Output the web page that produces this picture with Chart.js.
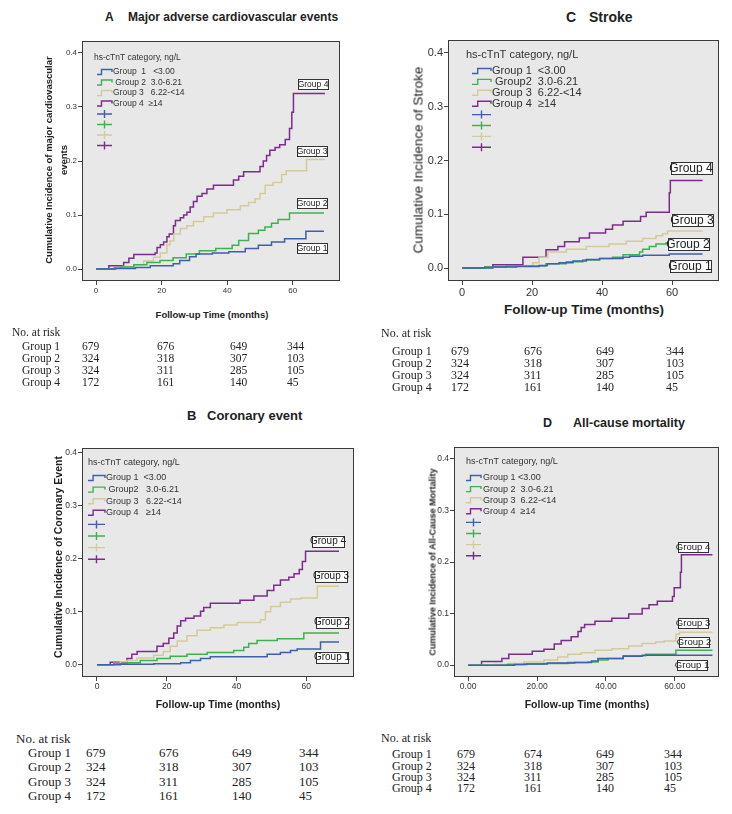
<!DOCTYPE html>
<html>
<head>
<meta charset="utf-8">
<script src="https://cdn.jsdelivr.net/npm/chart.js@4.4.1/dist/chart.umd.min.js"></script>
<style>
  body { margin: 0; background: #fff; width: 732px; height: 814px; position: relative; overflow: hidden;
         font-family: "Liberation Sans", Arial, sans-serif; color: #222; }
  .t { position: absolute; white-space: pre; line-height: 1; }
  .b { font-weight: bold; }
  .serif { font-family: "Liberation Serif", "Times New Roman", serif; color: #222; }
  canvas { position: absolute; }
</style>
</head>
<body>
<script>
// ---- data ----
const groupNames = ['Group 1', 'Group 2', 'Group 3', 'Group 4'];
const groupColors = ['#3e5eae', '#3db24e', '#d5ca9a', '#7d2b8e'];
const yTickValues = [0, 0.1, 0.2, 0.3, 0.4];
const yTickLabels = ['0.0', '0.1', '0.2', '0.3', '0.4'];
const xTickValues = [0, 20, 40, 60];
const xTickLabels = ['0', '20', '40', '60'];
const xTickLabelsD = ['0.00', '20.00', '40.00', '60.00'];

// A  major adverse cardiovascular events (months / cumulative incidence)
const maceG1Time = [0, 6, 12, 16.5, 23.5, 25.5, 28.5, 30.5, 35.5, 40.5, 45.5, 49.5, 53.5, 57.5, 64, 69.5];
const maceG1Inc  = [0, 0.001, 0.003, 0.006, 0.01, 0.016, 0.023, 0.028, 0.03, 0.032, 0.038, 0.044, 0.05, 0.056, 0.07, 0.07];
const maceG2Time = [0, 5.5, 7.5, 11.5, 15.5, 19.5, 23.5, 27.5, 31.5, 36.5, 41.5, 43.5, 46.5, 49.5, 51.5, 53.5, 55.5, 59, 69.5];
const maceG2Inc  = [0, 0.002, 0.004, 0.008, 0.012, 0.016, 0.021, 0.028, 0.034, 0.038, 0.044, 0.053, 0.066, 0.072, 0.078, 0.085, 0.092, 0.104, 0.104];
const maceG3Time = [0, 5.4, 8, 11.5, 14.5, 17.5, 19.6, 21.6, 22.5, 23.7, 25.7, 27.7, 29.7, 32.8, 35.8, 39.9, 44, 46.5, 48.5, 50, 51.6, 54, 56.6, 58, 64.2, 69.8];
const maceG3Inc  = [0, 0.002, 0.005, 0.008, 0.015, 0.022, 0.03, 0.045, 0.052, 0.065, 0.075, 0.08, 0.088, 0.097, 0.104, 0.11, 0.117, 0.123, 0.13, 0.14, 0.155, 0.16, 0.175, 0.182, 0.203, 0.203];
const maceG4Time = [0, 3.9, 8.4, 10, 11.5, 18, 18.6, 19.6, 20.6, 21.6, 22.3, 23.6, 24.2, 25.7, 26.7, 27.7, 28.7, 29.7, 30.8, 32.3, 33.8, 35.8, 41.9, 43.5, 45, 50, 51, 52, 53, 54.6, 56, 57.7, 59, 59.7, 60.2, 69.8];
const maceG4Inc  = [0, 0.006, 0.012, 0.02, 0.027, 0.03, 0.04, 0.045, 0.05, 0.06, 0.065, 0.08, 0.09, 0.095, 0.1, 0.105, 0.115, 0.125, 0.135, 0.14, 0.148, 0.155, 0.165, 0.172, 0.18, 0.19, 0.2, 0.21, 0.22, 0.225, 0.23, 0.24, 0.26, 0.29, 0.325, 0.325];

// B  coronary event
const coroG1Time = [0, 6.7, 16.3, 24, 26.8, 29.7, 32.5, 48.8, 52.6, 55.5, 57.4, 64.1, 69.4];
const coroG1Inc  = [0, 0.001, 0.002, 0.004, 0.008, 0.012, 0.015, 0.02, 0.023, 0.027, 0.03, 0.043, 0.043];
const coroG2Time = [0, 4.8, 8.6, 12.4, 17.2, 21, 25.8, 31.6, 39.2, 42.1, 43.5, 45.9, 51.7, 59.3, 69.4];
const coroG2Inc  = [0, 0.002, 0.004, 0.008, 0.012, 0.016, 0.02, 0.023, 0.027, 0.033, 0.04, 0.046, 0.049, 0.06, 0.06];
const coroG3Time = [0, 4.8, 6.7, 8.6, 11.5, 16.3, 19, 21, 23, 25.8, 28.7, 32.5, 36.4, 40.2, 46.9, 48.3, 49.8, 52.6, 55.5, 58.4, 63.2, 69.4];
const coroG3Inc  = [0, 0.003, 0.006, 0.008, 0.013, 0.018, 0.025, 0.035, 0.045, 0.055, 0.065, 0.07, 0.075, 0.08, 0.085, 0.1, 0.11, 0.118, 0.124, 0.126, 0.148, 0.148];
const coroG4Time = [0, 3.8, 8.6, 10, 11.5, 17.2, 19, 20.6, 22, 23, 24, 25.4, 27.8, 29.7, 30.6, 32.5, 41, 45, 48.8, 50.7, 52.6, 55, 56.5, 58, 58.9, 59.8, 69.4];
const coroG4Inc  = [0, 0.005, 0.012, 0.02, 0.025, 0.035, 0.04, 0.05, 0.06, 0.073, 0.083, 0.088, 0.092, 0.101, 0.108, 0.116, 0.122, 0.13, 0.14, 0.15, 0.16, 0.165, 0.172, 0.18, 0.195, 0.214, 0.214];

// C  stroke
const strokeG1Time = [0, 8.8, 15.5, 22, 24.4, 27.7, 31.7, 35.5, 39.3, 46, 47.9, 51.6, 59.2, 68.7];
const strokeG1Inc  = [0, 0.002, 0.003, 0.005, 0.008, 0.01, 0.013, 0.016, 0.018, 0.02, 0.022, 0.024, 0.026, 0.026];
const strokeG2Time = [0, 6.5, 12.6, 24, 29.8, 34.5, 39.3, 43, 46, 50.7, 51.6, 53.5, 55.4, 58.3, 68.7];
const strokeG2Inc  = [0, 0.002, 0.004, 0.008, 0.012, 0.015, 0.018, 0.02, 0.025, 0.03, 0.035, 0.04, 0.045, 0.047, 0.047];
const strokeG3Time = [0, 8.8, 16, 20.2, 22, 24.5, 29.8, 35.5, 42, 46.9, 51.6, 55.4, 57.3, 58.7, 68.7];
const strokeG3Inc  = [0, 0.002, 0.004, 0.01, 0.02, 0.03, 0.035, 0.04, 0.045, 0.05, 0.055, 0.06, 0.064, 0.069, 0.069];
const strokeG4Time = [0, 6.5, 8.8, 17.4, 24, 27.4, 29.3, 33.5, 36.4, 41, 43, 46, 51, 52.6, 59.2, 59.5, 68.7];
const strokeG4Inc  = [0, 0.002, 0.006, 0.02, 0.034, 0.04, 0.049, 0.056, 0.065, 0.072, 0.08, 0.087, 0.096, 0.104, 0.14, 0.163, 0.163];

// D  all-cause mortality
const deathG1Time = [0, 13.5, 17, 23, 30.9, 35.8, 37.7, 45, 50.5, 70.9];
const deathG1Inc  = [0, 0.001, 0.002, 0.004, 0.005, 0.008, 0.013, 0.017, 0.019, 0.019];
const deathG2Time = [0, 11.3, 16.2, 22, 28.9, 34.8, 37.7, 40.6, 45, 51.5, 60.3, 70.9];
const deathG2Inc  = [0, 0.001, 0.002, 0.003, 0.005, 0.006, 0.01, 0.013, 0.018, 0.021, 0.029, 0.029];
const deathG3Time = [0, 7.8, 11.8, 16.2, 22, 26, 28.9, 32.8, 36.8, 41.7, 46.6, 50.5, 54.4, 56.9, 60.3, 61.3, 70.9];
const deathG3Inc  = [0, 0.001, 0.003, 0.006, 0.01, 0.016, 0.021, 0.024, 0.029, 0.032, 0.037, 0.042, 0.045, 0.047, 0.06, 0.064, 0.064];
const deathG4Time = [0, 3.9, 9.8, 11.8, 18.6, 22, 25, 27, 29.9, 31.9, 32.8, 33.8, 36.8, 41.7, 46.6, 50.5, 52.5, 54.9, 59.3, 59.8, 61.6, 61.9, 70.9];
const deathG4Inc  = [0, 0.007, 0.013, 0.021, 0.027, 0.031, 0.041, 0.048, 0.055, 0.065, 0.073, 0.079, 0.085, 0.091, 0.099, 0.11, 0.117, 0.124, 0.133, 0.15, 0.18, 0.214, 0.214];

// number at risk (rows = groups, cols = 0/20/40/60 months)
const riskMace   = [[679, 676, 649, 344], [324, 318, 307, 103], [324, 311, 285, 105], [172, 161, 140, 45]];
const riskCoro   = [[679, 676, 649, 344], [324, 318, 307, 103], [324, 311, 285, 105], [172, 161, 140, 45]];
const riskStroke = [[679, 676, 649, 344], [324, 318, 307, 103], [324, 311, 285, 105], [172, 161, 140, 45]];
const riskDeath  = [[679, 674, 649, 344], [324, 318, 307, 103], [324, 311, 285, 105], [172, 161, 140, 45]];

// ---- layout per panel ----
const panels = [
  { series: [[maceG1Time, maceG1Inc], [maceG2Time, maceG2Inc], [maceG3Time, maceG3Inc], [maceG4Time, maceG4Inc]],
    canvas: [40, 30, 310, 270], area: [82, 41, 340, 281], xr: [-4.3, 74.4], yr: [-0.022, 0.422],
    xLabels: xTickLabels, tick: 8,
    legend: { size: 8.5, dx: 12, dy: 17, iconX: 15, iconW: 15, textX: 31, rowY: 31, step: 10.5,
              texts: ['Group  1   <3.00', ' Group 2  3.0-6.21', 'Group 3   6.22-<14', 'Group 4  \u226514'] },
    tags: { size: 8.5, w: 30, h: 10, pos: [[312, 248], [312, 203], [312, 151], [313, 84]] } },
  { series: [[coroG1Time, coroG1Inc], [coroG2Time, coroG2Inc], [coroG3Time, coroG3Inc], [coroG4Time, coroG4Inc]],
    canvas: [40, 440, 320, 260], area: [82, 448, 354, 677], xr: [-4.3, 73.7], yr: [-0.023, 0.409],
    xLabels: xTickLabels, tick: 8.5,
    legend: { size: 9, dx: 6, dy: 15, iconX: 6, iconW: 17, textX: 24, rowY: 30, step: 11.6,
              texts: ['Group 1  <3.00', ' Group2   3.0-6.21', 'Group 3   6.22-<14', 'Group 4   \u226514'] },
    tags: { size: 10, w: 32, h: 11, pos: [[332, 657], [332, 622], [331, 576], [328, 541]] } },
  { series: [[strokeG1Time, strokeG1Inc], [strokeG2Time, strokeG2Inc], [strokeG3Time, strokeG3Inc], [strokeG4Time, strokeG4Inc]],
    canvas: [420, 30, 310, 270], area: [448, 40, 719, 281], xr: [-4, 73.4], yr: [-0.024, 0.424],
    xLabels: xTickLabels, tick: 11,
    legend: { size: 11, dx: 18, dy: 15, iconX: 24, iconW: 19, textX: 44, rowY: 31, step: 10.9,
              texts: ['Group 1  <3.00', ' Group2  3.0-6.21', 'Group 3  6.22-<14', 'Group 4  \u226514'] },
    tags: { size: 12, w: 41, h: 12, pos: [[690, 266], [688, 244], [692, 220], [691, 168]] } },
  { series: [[deathG1Time, deathG1Inc], [deathG2Time, deathG2Inc], [deathG3Time, deathG3Inc], [deathG4Time, deathG4Inc]],
    canvas: [420, 440, 310, 260], area: [454, 447, 719, 677], xr: [-4.1, 72.8], yr: [-0.023, 0.423],
    xLabels: xTickLabelsD, tick: 8.5,
    legend: { size: 9, dx: 12, dy: 15, iconX: 12, iconW: 15, textX: 29, rowY: 31, step: 11.1,
              texts: ['Group 1 <3.00', 'Group 2  3.0-6.21', 'Group 3  6.22-<14', 'Group 4  \u226514'] },
    tags: { size: 9.5, w: 30, h: 10, pos: [[692, 665], [694, 642], [693, 623], [693, 547]] } }
];

function decor(p) {
  return {
    id: 'decor',
    beforeDatasetsDraw(chart) {
      const { ctx, chartArea: a } = chart;
      ctx.save();
      ctx.fillStyle = '#e8e8e8';
      ctx.fillRect(a.left, a.top, a.right - a.left, a.bottom - a.top);
      ctx.restore();
    },
    afterDatasetsDraw(chart) {
      const { ctx, chartArea: a } = chart;
      ctx.save();
      ctx.strokeStyle = '#3a3a3a';
      ctx.lineWidth = 1;
      ctx.strokeRect(a.left + 0.5, a.top + 0.5, a.right - a.left - 1, a.bottom - a.top - 1);

      // legend inside plot
      const lg = p.legend;
      ctx.font = lg.size + 'px "Liberation Sans", Arial, sans-serif';
      ctx.fillStyle = '#333';
      ctx.textBaseline = 'middle';
      ctx.fillText('hs-cTnT category, ng/L', a.left + lg.dx, a.top + lg.dy);
      for (let i = 0; i < 8; i++) {
        const y = a.top + lg.rowY + i * lg.step;
        const x0 = a.left + lg.iconX, w = lg.iconW;
        ctx.strokeStyle = groupColors[i % 4];
        ctx.lineWidth = 1.4;
        ctx.beginPath();
        if (i < 4) {
          ctx.moveTo(x0, y + 2.5); ctx.lineTo(x0 + w * 0.3, y + 2.5);
          ctx.lineTo(x0 + w * 0.3, y - 2.5); ctx.lineTo(x0 + w, y - 2.5); ctx.lineTo(x0 + w, y);
        } else {
          ctx.moveTo(x0, y); ctx.lineTo(x0 + w, y);
          ctx.moveTo(x0 + w / 2, y - 4); ctx.lineTo(x0 + w / 2, y + 4);
        }
        ctx.stroke();
        if (i < 4) ctx.fillText(lg.texts[i], a.left + lg.textX, y);
      }

      // boxed group tags at the curve ends
      const tg = p.tags;
      ctx.font = tg.size + 'px "Liberation Sans", Arial, sans-serif';
      ctx.textAlign = 'center';
      tg.pos.forEach((pt, i) => {
        const cx = pt[0] - p.canvas[0], cy = pt[1] - p.canvas[1];
        ctx.fillStyle = '#fff';
        ctx.fillRect(cx - tg.w / 2, cy - tg.h / 2, tg.w, tg.h);
        ctx.strokeStyle = '#333';
        ctx.lineWidth = 1;
        ctx.strokeRect(Math.round(cx - tg.w / 2) + 0.5, Math.round(cy - tg.h / 2) + 0.5, tg.w, tg.h);
        ctx.fillStyle = '#222';
        ctx.fillText(groupNames[i], cx, cy + 0.5);
      });
      ctx.restore();
    }
  };
}

panels.forEach(p => {
  const [cl, ct, cw, ch] = p.canvas;
  const [al, at, ar, ab] = p.area;
  const cv = document.createElement('canvas');
  cv.width = cw; cv.height = ch;
  cv.style.left = cl + 'px'; cv.style.top = ct + 'px';
  document.body.appendChild(cv);
  const font = { family: '"Liberation Sans", Arial, sans-serif', size: p.tick };
  new Chart(cv, {
    type: 'line',
    data: {
      datasets: p.series.map((s, i) => ({
        label: groupNames[i],
        data: s[0].map((t, k) => ({ x: t, y: s[1][k] })),
        borderColor: groupColors[i],
        borderWidth: 1.5,
        stepped: true,
        pointRadius: 0,
        fill: false
      }))
    },
    options: {
      responsive: false,
      animation: false,
      layout: { padding: { left: 0, top: at - ct, right: cl + cw - ar, bottom: 0 } },
      plugins: { legend: { display: false }, tooltip: { enabled: false } },
      scales: {
        x: {
          type: 'linear', min: p.xr[0], max: p.xr[1],
          afterBuildTicks: s => { s.ticks = xTickValues.map(v => ({ value: v })); },
          afterFit: s => { s.height = ct + ch - ab; },
          ticks: { font, color: '#333', padding: 1, maxRotation: 0,
                   callback: (v, i) => p.xLabels[i] },
          grid: { drawOnChartArea: false, drawTicks: true, tickLength: 4, color: '#444' },
          border: { display: false }
        },
        y: {
          type: 'linear', min: p.yr[0], max: p.yr[1],
          afterBuildTicks: s => { s.ticks = yTickValues.map(v => ({ value: v })); },
          afterFit: s => { s.width = al - cl; },
          ticks: { font, color: '#333', padding: 1, callback: (v, i) => yTickLabels[i] },
          grid: { drawOnChartArea: false, drawTicks: true, tickLength: 4, color: '#444' },
          border: { display: false }
        }
      }
    },
    plugins: [decor(p)]
  });
});

// ---- html text: titles, axis titles, risk tables ----
function put(text, x, y, size, cls, align) {
  const d = document.createElement('div');
  d.className = 't ' + (cls || '');
  d.textContent = text;
  d.style.fontSize = size + 'px';
  d.style.left = x + 'px';
  d.style.top = y + 'px';
  d.style.transform = align === 'c' ? 'translate(-50%,-50%)' : 'translateY(-50%)';
  document.body.appendChild(d);
  return d;
}
function vert(text, cx, cy, size, cls) {
  const d = put(text, cx, cy, size, cls, 'c');
  d.style.transform = 'translate(-50%,-50%) rotate(-90deg)';
  d.style.textAlign = 'center';
  d.style.lineHeight = '15px';
  return d;
}

// panel titles
put('A', 105, 17, 12, 'b'); put('Major adverse cardiovascular events', 128, 17, 12, 'b');
put('C', 566, 17, 14, 'b'); put('Stroke', 589, 17, 14, 'b');
put('B', 187, 415, 13, 'b'); put('Coronary event', 207, 415, 13, 'b');
put('D', 543, 423, 12.5, 'b'); put('All-cause mortality', 573, 423, 12.5, 'b');

// y axis titles
vert('Cumulative Incidence of major cardiovascular\nevents', 56, 160, 9.5, 'b');
vert('Cumulative Incidence of Stroke', 418, 160, 13.5, '');
vert('Cumulative Incidence of Coronary Event', 58, 557, 10.5, 'b');
vert('Cumulative Incidence of All-Cause Mortality', 433, 562, 9, 'b');

// x axis titles
put('Follow-up Time (months)', 212, 315, 9.5, 'b', 'c');
put('Follow-up Time (months)', 584, 310, 13.5, 'b', 'c');
put('Follow-up Time (months)', 218, 704, 10.5, 'b', 'c');
put('Follow-up Time (months)', 587, 704, 10.5, 'b', 'c');

// risk tables
function riskTable(rows, size, x0, xg, xs, yHead, ys) {
  put('No. at risk', x0, yHead, size, 'serif');
  rows.forEach((r, i) => {
    put(groupNames[i], xg, ys[i], size, 'serif');
    r.forEach((n, j) => put(String(n), xs[j], ys[i], size, 'serif'));
  });
}
riskTable(riskMace, 11.5, 12, 22, [82, 157, 230, 287], 333, [347, 359, 371, 383]);
riskTable(riskStroke, 12, 381, 392, [451, 524, 596, 666], 333, [351, 363, 375, 387]);
riskTable(riskCoro, 13, 16, 28, [86, 159, 232, 299], 738, [752, 766, 781, 795]);
riskTable(riskDeath, 12, 381, 392, [457, 524, 596, 664], 738, [754, 766, 777, 788]);
</script>
</body>
</html>
